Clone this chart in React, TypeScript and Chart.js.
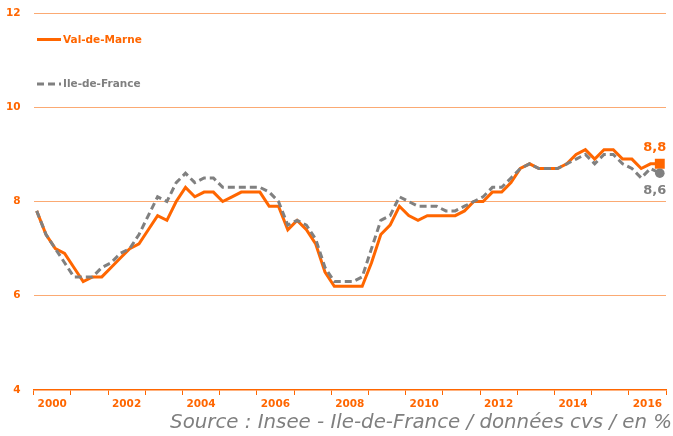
import React, { useEffect, useRef } from 'react';
import { Chart, registerables } from 'chart.js';

Chart.register(...registerables);

// ---- data (quarterly, 2000 Q1 -> 2016 Q4) ----
const seriesNames = ['Val-de-Marne', 'Ile-de-France'];
const valDeMarne = [
  7.8, 7.3, 7.0, 6.9, 6.6, 6.3, 6.4, 6.4, 6.6, 6.8, 7.0, 7.1,
  7.4, 7.7, 7.6, 8.0, 8.3, 8.1, 8.2, 8.2, 8.0, 8.1, 8.2, 8.2,
  8.2, 7.9, 7.9, 7.4, 7.6, 7.4, 7.1, 6.5, 6.2, 6.2, 6.2, 6.2,
  6.7, 7.3, 7.5, 7.9, 7.7, 7.6, 7.7, 7.7, 7.7, 7.7, 7.8, 8.0,
  8.0, 8.2, 8.2, 8.4, 8.7, 8.8, 8.7, 8.7, 8.7, 8.8, 9.0, 9.1,
  8.9, 9.1, 9.1, 8.9, 8.9, 8.7, 8.8, 8.8,
];
const ileDeFrance = [
  7.8, 7.3, 7.0, 6.7, 6.4, 6.4, 6.4, 6.6, 6.7, 6.9, 7.0, 7.3,
  7.7, 8.1, 8.0, 8.4, 8.6, 8.4, 8.5, 8.5, 8.3, 8.3, 8.3, 8.3,
  8.3, 8.2, 8.0, 7.5, 7.6, 7.5, 7.2, 6.6, 6.3, 6.3, 6.3, 6.4,
  7.0, 7.6, 7.7, 8.1, 8.0, 7.9, 7.9, 7.9, 7.8, 7.8, 7.9, 8.0,
  8.1, 8.3, 8.3, 8.5, 8.7, 8.8, 8.7, 8.7, 8.7, 8.8, 8.9, 9.0,
  8.8, 9.0, 9.0, 8.8, 8.7, 8.5, 8.7, 8.6,
];
const years = ['2000', '2001', '2002', '2003', '2004', '2005', '2006', '2007', '2008',
  '2009', '2010', '2011', '2012', '2013', '2014', '2015', '2016'];
const yearLabels = ['2000', '2002', '2004', '2006', '2008', '2010', '2012', '2014', '2016'];
const yTicks = [4, 6, 8, 10, 12];
const endLabels = ['8,8', '8,6'];
const sourceText = 'Source : Insee - Ile-de-France / données cvs / en %';

const ORANGE = '#FF6600';
const GREY = '#808080';
const GRID = '#FBAA73';
const FONT = '"DejaVu Sans", Verdana, sans-serif';
const OFFSET = 1 / 3; // quarter points sit 1/3 quarter after the year boundary

export default function App() {
  const ref = useRef<HTMLCanvasElement>(null);

  useEffect(() => {
    document.body.style.margin = '0';
    const perYear = 4;
    const firstYear = Number(years[0]);
    const boundaries = Array.from({ length: years.length + 1 }, (_, k) => perYear * k - OFFSET);
    const labelPos = yearLabels.map((y) => (Number(y) - firstYear) * perYear + perYear / 2 - OFFSET);
    const near = (a: number, b: number) => Math.abs(a - b) < 1e-6;
    const isBoundary = (v: number) => boundaries.some((b) => near(b, v));
    const labelFor = (v: number) => {
      const idx = labelPos.findIndex((p) => near(p, v));
      return idx >= 0 ? yearLabels[idx] : '';
    };

    const overlay = {
      id: 'overlay',
      afterDatasetsDraw(chart: any) {
        const ctx = chart.ctx as CanvasRenderingContext2D;
        ctx.save();
        // legend
        ctx.font = `bold 10.5px ${FONT}`;
        ctx.textBaseline = 'middle';
        ctx.textAlign = 'left';
        ctx.lineWidth = 3;
        ctx.strokeStyle = ORANGE;
        ctx.setLineDash([]);
        ctx.beginPath();
        ctx.moveTo(37, 39.5);
        ctx.lineTo(61, 39.5);
        ctx.stroke();
        ctx.fillStyle = ORANGE;
        ctx.fillText(seriesNames[0], 63, 40);
        ctx.strokeStyle = GREY;
        ctx.setLineDash([7, 4]);
        ctx.beginPath();
        ctx.moveTo(37, 84);
        ctx.lineTo(61, 84);
        ctx.stroke();
        ctx.setLineDash([]);
        ctx.fillStyle = GREY;
        ctx.fillText(seriesNames[1], 63, 84.5);

        // end labels
        ctx.font = `bold 13px ${FONT}`;
        ctx.textAlign = 'center';
        chart.data.datasets.forEach((_: any, i: number) => {
          const meta = chart.getDatasetMeta(i);
          const pt = meta.data[meta.data.length - 1];
          ctx.fillStyle = i === 0 ? ORANGE : GREY;
          ctx.fillText(endLabels[i], pt.x - 5, i === 0 ? pt.y - 16 : pt.y + 17.5);
        });

        // source
        ctx.font = `italic 19.8px ${FONT}`;
        ctx.textAlign = 'right';
        ctx.fillStyle = '#7F7F7F';
        ctx.fillText(sourceText, chart.width - 1, 423);
        ctx.restore();
      },
    };

    const lastIdx = valDeMarne.length - 1;
    const chart = new Chart(ref.current as HTMLCanvasElement, {
      type: 'line',
      data: {
        datasets: [
          {
            label: seriesNames[0],
            data: valDeMarne.map((v, i) => ({ x: i, y: v })),
            borderColor: ORANGE,
            backgroundColor: ORANGE,
            borderWidth: 3,
            tension: 0,
            order: 1,
            pointStyle: 'rect',
            pointRadius: (c: any) => (c.dataIndex === lastIdx ? 7 : 0),
            pointBorderWidth: 0,
            pointBackgroundColor: ORANGE,
          },
          {
            label: seriesNames[1],
            data: ileDeFrance.map((v, i) => ({ x: i, y: v })),
            borderColor: GREY,
            backgroundColor: GREY,
            borderWidth: 3,
            borderDash: [7, 4],
            tension: 0,
            order: 0,
            pointStyle: 'circle',
            pointRadius: (c: any) => (c.dataIndex === lastIdx ? 4.8 : 0),
            pointBorderWidth: 0,
            pointBackgroundColor: GREY,
          },
        ],
      },
      options: {
        responsive: false,
        devicePixelRatio: 1,
        animation: false,
        layout: { padding: { top: 13, right: 4.3, left: 0, bottom: 0 } },
        plugins: { legend: { display: false }, tooltip: { enabled: false } },
        scales: {
          x: {
            type: 'linear',
            min: -OFFSET,
            max: years.length * perYear - OFFSET,
            afterBuildTicks: (axis: any) => {
              const vals = [...boundaries, ...labelPos].sort((a, b) => a - b);
              axis.ticks = vals.map((v) => ({ value: v }));
            },
            afterFit: (axis: any) => {
              axis.height = 46;
              axis.paddingLeft = 0;
              axis.paddingRight = 0;
              axis.paddingTop = 0;
              axis.paddingBottom = 0;
            },
            ticks: {
              autoSkip: false,
              maxRotation: 0,
              padding: 3,
              color: ORANGE,
              font: { family: FONT, size: 10.5, weight: 'bold' },
              callback: (v: any) => labelFor(Number(v)),
            },
            grid: {
              drawOnChartArea: false,
              drawTicks: true,
              tickLength: 5,
              lineWidth: 1,
              color: (c: any) => (c.tick && isBoundary(c.tick.value) ? ORANGE : 'rgba(0,0,0,0)'),
            },
            border: { display: true, color: ORANGE, width: 1.5 },
          },
          y: {
            min: 4,
            max: 12,
            afterBuildTicks: (axis: any) => {
              axis.ticks = yTicks.map((v) => ({ value: v }));
            },
            afterFit: (axis: any) => {
              axis.width = 33.6;
              axis.paddingTop = 0;
              axis.paddingBottom = 0;
              axis.paddingLeft = 0;
              axis.paddingRight = 0;
            },
            ticks: {
              padding: 13,
              color: ORANGE,
              font: { family: FONT, size: 10.5, weight: 'bold' },
            },
            grid: {
              drawTicks: false,
              lineWidth: 1,
              color: (c: any) => (c.tick && c.tick.value === 4 ? 'rgba(0,0,0,0)' : GRID),
            },
            border: { display: false },
          },
        },
      },
      plugins: [overlay],
    } as any);
    return () => chart.destroy();
  }, []);

  return (
    <div style={{ width: 673, height: 436 }}>
      <canvas ref={ref} width={673} height={436} style={{ display: 'block' }} />
    </div>
  );
}
